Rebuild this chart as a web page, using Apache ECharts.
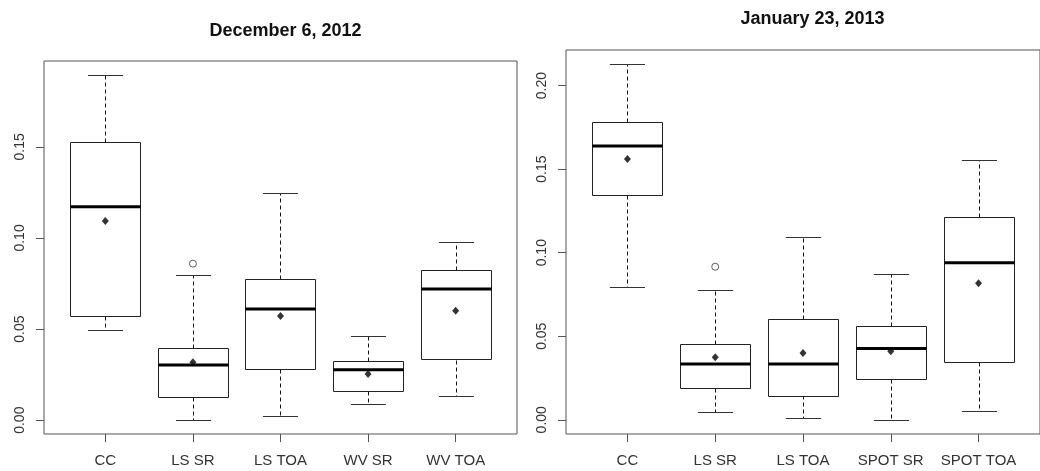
<!DOCTYPE html>
<html>
<head>
<meta charset="utf-8">
<title>Box plots</title>
<script src="https://cdn.jsdelivr.net/npm/echarts@6/dist/echarts.min.js"></script>
<style>
  html, body { margin: 0; padding: 0; background: #fff; }
  #chart { width: 1040px; height: 471px; }
</style>
</head>
<body>
<div id="chart"></div>
<script>
// ---- December 6, 2012 ----
const decCategories = ['CC', 'LS SR', 'LS TOA', 'WV SR', 'WV TOA'];
const decWhiskerLow  = [0.0495, 0.0000, 0.0022, 0.0089, 0.0135];
const decQ1          = [0.0572, 0.0126, 0.0280, 0.0161, 0.0331];
const decMedian      = [0.1171, 0.0303, 0.0610, 0.0277, 0.0720];
const decQ3          = [0.1524, 0.0396, 0.0776, 0.0323, 0.0822];
const decWhiskerHigh = [0.1895, 0.0798, 0.1245, 0.0464, 0.0976];
const decMean        = [0.1093, 0.0318, 0.0572, 0.0254, 0.0601];
const decOutliers    = [[2, 0.0859]];           // [category number, value]
const decTicks       = [0, 0.05, 0.10, 0.15];

// ---- January 23, 2013 ----
const janCategories = ['CC', 'LS SR', 'LS TOA', 'SPOT SR', 'SPOT TOA'];
const janWhiskerLow  = [0.0793, 0.0046, 0.0010, 0.0000, 0.0050];
const janQ1          = [0.1345, 0.0190, 0.0146, 0.0242, 0.0346];
const janMedian      = [0.1639, 0.0334, 0.0334, 0.0427, 0.0940];
const janQ3          = [0.1780, 0.0454, 0.0604, 0.0559, 0.1213];
const janWhiskerHigh = [0.2128, 0.0776, 0.1096, 0.0871, 0.1552];
const janMean        = [0.1561, 0.0374, 0.0400, 0.0410, 0.0817];
const janOutliers    = [[2, 0.0916]];
const janTicks       = [0, 0.05, 0.10, 0.15, 0.20];

const FONT = "'Liberation Sans', Arial, sans-serif";

function boxRows(low, q1, med, q3, high) {
  return low.map((v, i) => [i + 1, v, q1[i], med[i], q3[i], high[i]]);
}

// R-style axis limits: data range widened by 4% on each side
function paddedRange(values) {
  const lo = Math.min(...values), hi = Math.max(...values);
  const pad = 0.04 * (hi - lo);
  return [lo - pad, hi + pad];
}

function crisp(v) { return Math.round(v) + 0.5; }

function renderBox(params, api) {
  const x = api.value(0);
  const lo = api.coord([x, api.value(1)]);
  const q1 = api.coord([x, api.value(2)]);
  const md = api.coord([x, api.value(3)]);
  const q3 = api.coord([x, api.value(4)]);
  const hi = api.coord([x, api.value(5)]);
  const halfBox = api.size([0.8, 0])[0] / 2;
  const halfCap = api.size([0.4, 0])[0] / 2;
  const cx = crisp(lo[0]);
  const dashed = { stroke: '#111', lineWidth: 1, lineDash: [4, 3] };
  const solid = { stroke: '#333', lineWidth: 1 };
  return {
    type: 'group',
    children: [
      { type: 'line', shape: { x1: cx, y1: crisp(q1[1]), x2: cx, y2: crisp(lo[1]) }, style: dashed },
      { type: 'line', shape: { x1: cx, y1: crisp(q3[1]), x2: cx, y2: crisp(hi[1]) }, style: dashed },
      { type: 'line', shape: { x1: cx - halfCap, y1: crisp(lo[1]), x2: cx + halfCap, y2: crisp(lo[1]) }, style: solid },
      { type: 'line', shape: { x1: cx - halfCap, y1: crisp(hi[1]), x2: cx + halfCap, y2: crisp(hi[1]) }, style: solid },
      {
        type: 'rect',
        shape: { x: crisp(cx - halfBox), y: crisp(q3[1]), width: Math.round(2 * halfBox), height: Math.round(q1[1] - q3[1]) },
        style: { fill: '#fff', stroke: '#222', lineWidth: 1 }
      },
      { type: 'line', shape: { x1: cx - halfBox, y1: md[1], x2: cx + halfBox, y2: md[1] }, style: { stroke: '#000', lineWidth: 3 } }
    ]
  };
}

function panelAxes(idx, categories, ticks, yRange) {
  const x = {
    type: 'value', gridIndex: idx, position: 'bottom',
    min: 0.5 - 0.04 * categories.length, max: categories.length + 0.5 + 0.04 * categories.length,
    axisLine: { show: false, onZero: false },
    splitLine: { show: false },
    axisTick: { show: true, inside: false, length: 8, customValues: categories.map((c, i) => i + 1), lineStyle: { color: '#555' } },
    axisLabel: {
      customValues: categories.map((c, i) => i + 1),
      formatter: v => categories[Math.round(v) - 1] || '',
      margin: 19, fontSize: 15, color: '#333', fontFamily: FONT
    }
  };
  const y = {
    type: 'value', gridIndex: idx, position: 'left',
    min: yRange[0], max: yRange[1],
    axisLine: { show: false, onZero: false },
    splitLine: { show: false },
    axisTick: { show: true, inside: false, length: 8, customValues: ticks, lineStyle: { color: '#555' } },
    axisLabel: {
      customValues: ticks, rotate: 90,
      formatter: v => v.toFixed(2),
      margin: 17, fontSize: 14, color: '#333', fontFamily: FONT
    }
  };
  return [x, y];
}

function panelSeries(idx, rows, mean, outliers) {
  return [
    { type: 'custom', xAxisIndex: idx, yAxisIndex: idx, renderItem: renderBox, data: rows, z: 2 },
    {
      type: 'scatter', xAxisIndex: idx, yAxisIndex: idx, symbol: 'diamond', symbolSize: [7, 8],
      itemStyle: { color: '#000' }, data: mean.map((v, i) => [i + 1, v]), z: 3
    },
    {
      type: 'scatter', xAxisIndex: idx, yAxisIndex: idx, symbol: 'circle', symbolSize: 7,
      itemStyle: { color: '#fff', borderColor: '#333', borderWidth: 1 }, data: outliers, z: 3
    }
  ];
}

const decRows = boxRows(decWhiskerLow, decQ1, decMedian, decQ3, decWhiskerHigh);
const janRows = boxRows(janWhiskerLow, janQ1, janMedian, janQ3, janWhiskerHigh);
const decRange = paddedRange([...decWhiskerLow, ...decWhiskerHigh, ...decOutliers.map(o => o[1])]);
const janRange = paddedRange([...janWhiskerLow, ...janWhiskerHigh, ...janOutliers.map(o => o[1])]);

const [decX, decY] = panelAxes(0, decCategories, decTicks, decRange);
const [janX, janY] = panelAxes(1, janCategories, janTicks, janRange);

const chart = echarts.init(document.getElementById('chart'), null, { renderer: 'canvas' });
chart.setOption({
  backgroundColor: '#fff',
  animation: false,
  title: [
    { text: 'December 6, 2012', left: 280.5, top: 17, textAlign: 'center',
      textStyle: { fontSize: 18, fontWeight: 'bold', color: '#111', fontFamily: FONT } },
    { text: 'January 23, 2013', left: 807.5, top: 5, textAlign: 'center',
      textStyle: { fontSize: 18, fontWeight: 'bold', color: '#111', fontFamily: FONT } }
  ],
  grid: [
    { left: 44, top: 61, width: 473, height: 373, show: true, borderColor: '#555', borderWidth: 1, backgroundColor: 'transparent' },
    { left: 566, top: 50, width: 483, height: 384, show: true, borderColor: '#555', borderWidth: 1, backgroundColor: 'transparent' }
  ],
  xAxis: [decX, janX],
  yAxis: [decY, janY],
  series: [
    ...panelSeries(0, decRows, decMean, decOutliers),
    ...panelSeries(1, janRows, janMean, janOutliers)
  ]
});
</script>
</body>
</html>
